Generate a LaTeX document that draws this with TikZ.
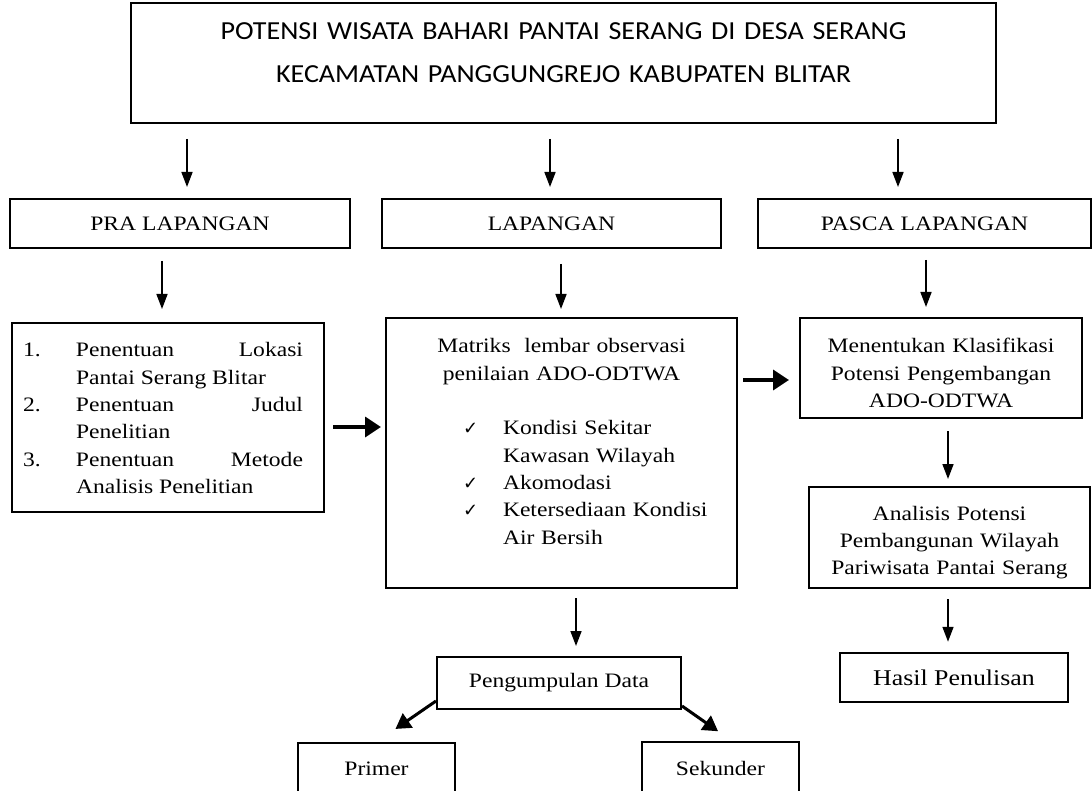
\documentclass[tikz,border=0pt]{standalone}
\usepackage{fontspec}
\setmainfont{Liberation Serif}[FakeStretch=1.15]
\newfontfamily\judulfont{Carlito}[FakeStretch=1.08]
\newfontfamily\centangfont{DejaVu Sans}
\usetikzlibrary{arrows.meta}
\newcommand\isi{\fontsize{20.5}{27.3}\selectfont}
\newcommand\cek{\makebox[40pt][l]{\centangfont\fontsize{18}{18}\selectfont ✓}}

\begin{document}
\begin{tikzpicture}[x=1pt,y=-1pt,
  kotak/.style={draw,line width=2pt,font=\isi,inner sep=0pt,align=center},
  panah/.style={line width=1.6pt,-{Triangle[length=15pt,width=11pt]}},
  panahtebal/.style={line width=3.5pt,-{Triangle[length=16pt,width=20pt]}},
  panahmiring/.style={line width=3pt,-{Triangle[length=15pt,width=17pt]}}]
  \useasboundingbox (0,0) rectangle (1092,791);
  \node[kotak,minimum width=865pt,minimum height=120pt,text width=865pt,font=\judulfont\fontsize{26}{43}\selectfont,
    text height=17pt,text depth=63pt] (judul) at (563.5,63)
    {POTENSI WISATA BAHARI PANTAI SERANG DI DESA SERANG\\KECAMATAN PANGGUNGREJO KABUPATEN BLITAR};
  \node[kotak,minimum width=340pt,minimum height=49pt] (pra) at (180,223.5) {PRA LAPANGAN};
  \node[kotak,minimum width=339pt,minimum height=49pt] (lap) at (551.5,223.5) {LAPANGAN};
  \node[kotak,minimum width=333pt,minimum height=49pt] (pasca) at (924.5,223.5) {PASCA LAPANGAN};
  \node[kotak,minimum width=312pt,minimum height=189pt,text width=280pt,align=justify,
    text height=14pt,text depth=135pt] (tahap) at (168,417.5) {%
    \hangindent=48pt\hangafter=1\noindent\hspace*{-5pt}\makebox[53pt][l]{1.}Penentuan\hfill Lokasi\hspace*{5pt}\break Pantai Serang Blitar\par
    \hangindent=48pt\hangafter=1\noindent\hspace*{-5pt}\makebox[53pt][l]{2.}Penentuan\hfill Judul\hspace*{5pt}\break Penelitian\par
    \hangindent=48pt\hangafter=1\noindent\hspace*{-5pt}\makebox[53pt][l]{3.}Penentuan\hfill Metode\hspace*{5pt}\break Analisis Penelitian\par};
  \node[kotak,minimum width=351pt,minimum height=270pt,text width=351pt,align=left,
    text height=14pt,text depth=214pt] (matriks) at (561.5,453) {%
    \makebox[351pt]{Matriks\ \ lembar observasi}\\
    \makebox[351pt]{penilaian ADO-ODTWA}\\[27.3pt]
    \hspace*{77pt}\cek Kondisi Sekitar\\
    \hspace*{117pt}Kawasan Wilayah\\
    \hspace*{77pt}\cek Akomodasi\\
    \hspace*{77pt}\cek Ketersediaan Kondisi\\
    \hspace*{117pt}Air Bersih};
  \node[kotak,minimum width=282pt,minimum height=100pt,text width=282pt,text height=14pt,text depth=44pt] (klas) at (941,368)
    {Menentukan Klasifikasi\\Potensi Pengembangan\\ADO-ODTWA};
  \node[kotak,minimum width=281pt,minimum height=101pt,text width=281pt,text height=14pt,text depth=49pt] (analisis) at (949.5,537.5)
    {Analisis Potensi\\Pembangunan Wilayah\\Pariwisata Pantai Serang};
  \node[kotak,minimum width=228pt,minimum height=49pt,line width=2.5pt,font=\fontsize{22.5}{27}\selectfont] (hasil) at (954,677.5) {Hasil Penulisan};
  \node[kotak,minimum width=244pt,minimum height=52pt] (kumpul) at (559,683) {Pengumpulan Data};
  \node[kotak,minimum width=157pt,minimum height=52pt] (primer) at (376.5,769) {Primer};
  \node[kotak,minimum width=157pt,minimum height=53pt] (sekunder) at (720.5,768.5) {Sekunder};

  \draw[panah,shorten <=15pt,shorten >=11pt] ([xshift=7pt]pra.north |- judul.south) -- ([xshift=7pt]pra.north);
  \draw[panah,shorten <=15pt,shorten >=11pt] ([xshift=-1.5pt]lap.north |- judul.south) -- ([xshift=-1.5pt]lap.north);
  \draw[panah,shorten <=15pt,shorten >=11pt] ([xshift=-26.5pt]pasca.north |- judul.south) -- ([xshift=-26.5pt]pasca.north);
  \draw[panah,shorten <=12pt,shorten >=13pt] ([xshift=-18pt]pra.south) -- ([xshift=-18pt]pra.south |- tahap.north);
  \draw[panah,shorten <=15pt,shorten >=8pt] ([xshift=9.5pt]lap.south) -- ([xshift=9.5pt]lap.south |- matriks.north);
  \draw[panah,shorten <=11pt,shorten >=10pt] ([xshift=1.5pt]pasca.south) -- ([xshift=1.5pt]pasca.south |- klas.north);
  \draw[panahtebal,shorten <=8pt,shorten >=4pt] ([yshift=-9.5pt]tahap.east) -- ([yshift=-9.5pt]tahap.east -| matriks.west);
  \draw[panahtebal,shorten <=5pt,shorten >=10pt] ([yshift=-12pt]klas.west -| matriks.east) -- ([yshift=-12pt]klas.west);
  \draw[panah,shorten <=12pt,shorten >=7pt] ([xshift=7pt]klas.south) -- ([xshift=7pt]klas.south |- analisis.north);
  \draw[panah,shorten <=10pt,shorten >=10pt] ([xshift=-6pt]hasil.north |- analisis.south) -- ([xshift=-6pt]hasil.north);
  \draw[panah,shorten <=9pt,shorten >=10pt] ([xshift=14.5pt]matriks.south) -- ([xshift=14.5pt]matriks.south |- kumpul.north);
  \draw[panahmiring,shorten >=23pt] ([yshift=9pt]kumpul.south west) -- (primer.north);
  \draw[panahmiring,shorten >=17pt] ([yshift=4pt]kumpul.south east) -- ([xshift=11.5pt]sekunder.north);
\end{tikzpicture}
\end{document}
